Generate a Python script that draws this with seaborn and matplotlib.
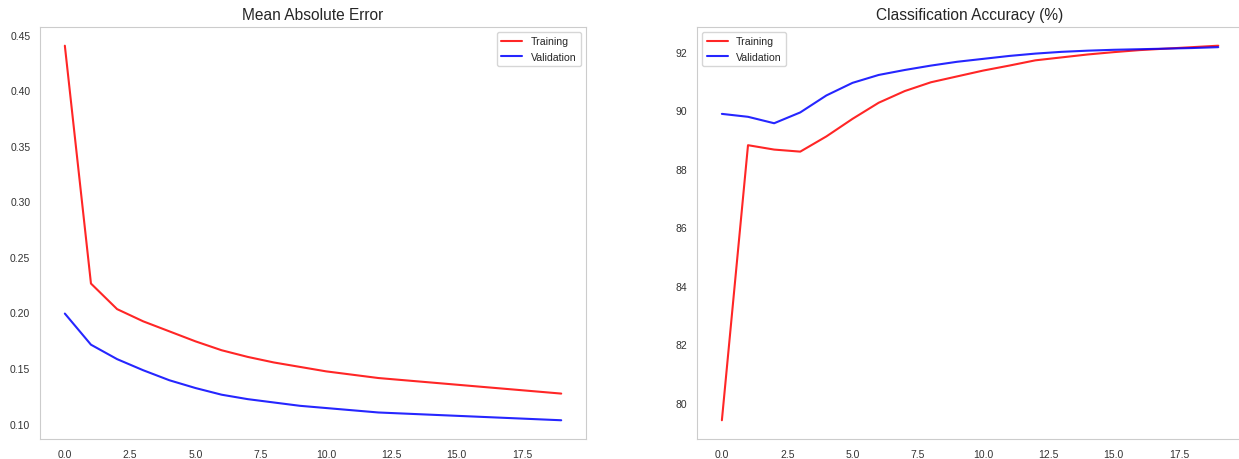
import numpy as np
import pandas as pd
import matplotlib
matplotlib.use("Agg")
import matplotlib.pyplot as plt
import seaborn as sns

sns.set_style("white")
plt.rcParams['font.family'] = ['Liberation Sans', 'DejaVu Sans']

# === Data ===
epochs = list(range(20))

mae_train = [0.440, 0.226, 0.203, 0.192, 0.183, 0.174, 0.166, 0.160, 0.155, 0.151,
             0.147, 0.144, 0.141, 0.139, 0.137, 0.135, 0.133, 0.131, 0.129, 0.127]
mae_val = [0.199, 0.171, 0.158, 0.148, 0.139, 0.132, 0.126, 0.122, 0.119, 0.116,
           0.114, 0.112, 0.110, 0.109, 0.108, 0.107, 0.106, 0.105, 0.104, 0.103]

acc_train = [79.4, 88.8, 88.65, 88.58, 89.1, 89.7, 90.25, 90.65, 90.95, 91.15,
             91.35, 91.52, 91.7, 91.8, 91.9, 91.98, 92.05, 92.1, 92.15, 92.2]
acc_val = [89.87, 89.77, 89.55, 89.92, 90.5, 90.93, 91.2, 91.37, 91.52, 91.65,
           91.75, 91.85, 91.93, 91.99, 92.03, 92.06, 92.08, 92.1, 92.12, 92.15]

mae_df = pd.DataFrame({"epoch": epochs, "Training": mae_train, "Validation": mae_val})
acc_df = pd.DataFrame({"epoch": epochs, "Training": acc_train, "Validation": acc_val})

fig = plt.figure(figsize=(12.39, 4.6), dpi=100)
ax1 = fig.add_axes([0.0323, 0.0435, 0.4407, 0.8957])
ax2 = fig.add_axes([0.5626, 0.0435, 0.4407, 0.8957])

def draw(ax, df, title, loc):
    sns.lineplot(data=df, x="epoch", y="Training", ax=ax, color="red", alpha=0.85,
                 linewidth=1.5, label="Training")
    sns.lineplot(data=df, x="epoch", y="Validation", ax=ax, color="blue", alpha=0.85,
                 linewidth=1.5, label="Validation")
    ax.set_title(title, fontsize=11.2, color=".15")
    ax.set_xlabel("")
    ax.set_ylabel("")
    ax.tick_params(labelsize=7.5, colors=".2")
    ax.legend(loc=loc, fontsize=7.6)
    for s in ax.spines.values():
        s.set_color(".8")

draw(ax1, mae_df, "Mean Absolute Error", "upper right")
draw(ax2, acc_df, "Classification Accuracy (%)", "upper left")

fig.savefig("out.png", dpi=100)
